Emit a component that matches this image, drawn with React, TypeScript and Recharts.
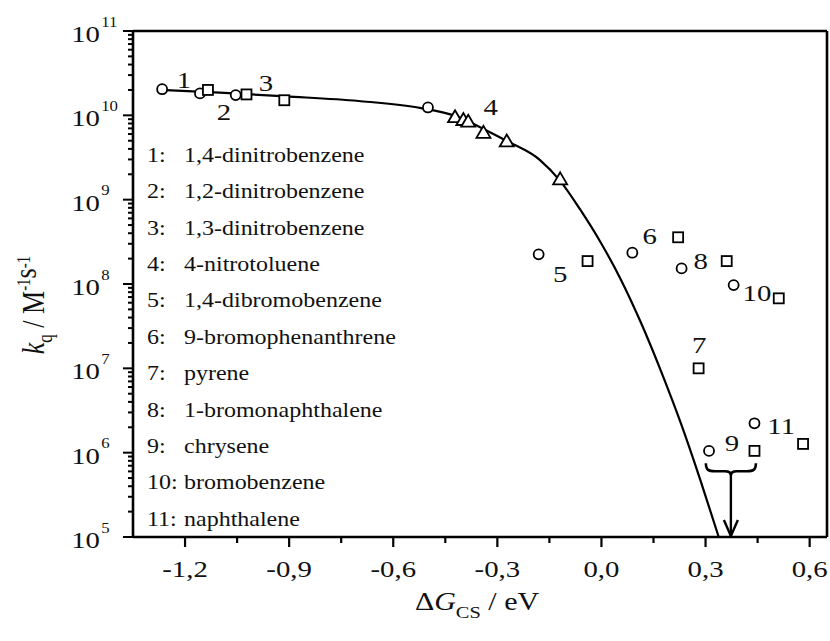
import React from 'react'
import {
  ComposedChart,
  Customized,
  Line,
  ReferenceLine,
  Scatter,
  XAxis,
  YAxis,
} from 'recharts'

const SERIF = '"Liberation Serif", "Times New Roman", serif'
const INK = '#111'
const STRETCH = 1.2 // the original figure is drawn a little wide

// open circles
const circleX = [-1.266, -1.157, -1.054, -0.5, -0.181, 0.089, 0.231, 0.381, 0.31, 0.441]
const circleK = [2.04e10, 1.82e10, 1.74e10, 1.24e10, 2.25e8, 2.35e8, 1.53e8, 9.7e7, 1.05e6, 2.23e6]

// open squares
const squareX = [-1.134, -1.023, -0.914, -0.04, 0.221, 0.361, 0.511, 0.28, 0.441, 0.581]
const squareK = [2.0e10, 1.77e10, 1.51e10, 1.87e8, 3.58e8, 1.87e8, 6.76e7, 1.0e7, 1.05e6, 1.27e6]

// open triangles (4-nitrotoluene)
const triangleX = [-0.422, -0.398, -0.384, -0.34, -0.273, -0.119]
const triangleK = [9.5e9, 8.8e9, 8.4e9, 6.2e9, 4.9e9, 1.74e9]

// fitted curve
const curveX = [-1.27, -1.1, -0.91, -0.7, -0.52, -0.42, -0.34, -0.27, -0.177, -0.119, -0.061, -0.003, 0.055, 0.113, 0.171, 0.229, 0.286, 0.338]
const curveK = [2.0e10, 1.86e10, 1.68e10, 1.48e10, 1.22e10, 9.8e9, 6.9e9, 4.9e9, 2.95e9, 1.67e9, 7.6e8, 3.15e8, 1.15e8, 3.54e7, 9.4e6, 2.22e6, 4.6e5, 1.0e5]

// numbers written next to the points
const tagText = ['1', '2', '3', '4', '5', '6', '7', '8', '9', '10', '11']
const tagX = [-1.203, -1.088, -0.967, -0.319, -0.119, 0.139, 0.282, 0.286, 0.376, 0.448, 0.518]
const tagK = [2.59e10, 1.1e10, 2.44e10, 1.25e10, 1.31e8, 3.71e8, 1.89e7, 1.88e8, 1.29e6, 7.76e7, 2.07e6]

const compoundNames = [
  '1,4-dinitrobenzene',
  '1,2-dinitrobenzene',
  '1,3-dinitrobenzene',
  '4-nitrotoluene',
  '1,4-dibromobenzene',
  '9-bromophenanthrene',
  'pyrene',
  '1-bromonaphthalene',
  'chrysene',
  'bromobenzene',
  'naphthalene',
]

// brace under 9 / 11 with the arrow down to the axis
const braceX = [0.373]
const braceK = [5.7e5]
const arrowTipK = [1e5]

const xDomain = [-1.35, 0.65]
const xMajor = [-1.2, -0.9, -0.6, -0.3, 0, 0.3, 0.6]
const xMinor = [-1.05, -0.75, -0.45, -0.15, 0.15, 0.45]
const yExponents = [5, 6, 7, 8, 9, 10, 11]

const zip = (xs: number[], ks: number[]) => xs.map((x, i) => ({ x, k: ks[i] }))

const circles = zip(circleX, circleK)
const squares = zip(squareX, squareK)
const triangles = zip(triangleX, triangleK)
const curve = zip(curveX, curveK)
const tags = tagX.map((x, i) => ({ x, k: tagK[i], t: tagText[i] }))
const brace = zip(braceX, braceK)
const arrowTip = zip(braceX, arrowTipK)

const xTicks = [...xMajor, ...xMinor].sort((a, b) => a - b)
const yTicks: number[] = []
yExponents.forEach((e) => {
  yTicks.push(Math.pow(10, e))
  if (e < 11) for (let m = 2; m <= 9; m++) yTicks.push(m * Math.pow(10, e))
})

const XTick = (props: any) => {
  const { x, y, payload } = props
  const v = payload.value
  const major = xMajor.some((m) => Math.abs(m - v) < 1e-9)
  return (
    <g>
      <line x1={x} x2={x} y1={y} y2={y + (major ? 10 : 6)} stroke="#000" strokeWidth={2.2} />
      {major && (
        <text
          transform={`translate(${x},${y + 40}) scale(${STRETCH},1)`}
          textAnchor="middle"
          fontFamily={SERIF}
          fontSize={24}
          fill={INK}
        >
          {v.toFixed(1).replace('.', ',')}
        </text>
      )}
    </g>
  )
}

const YTick = (props: any) => {
  const { x, y, payload } = props
  const v = payload.value
  const lg = Math.log10(v)
  const e = Math.round(lg)
  const major = Math.abs(lg - e) < 1e-9
  return (
    <g>
      <line x1={x} x2={x - (major ? 10 : 5)} y1={y} y2={y} stroke="#000" strokeWidth={2} />
      {major && (
        <g transform={`translate(${x - 33},${y}) scale(${STRETCH},1)`} fontFamily={SERIF} fill={INK}>
          <text x={0} y={11} textAnchor="end" fontSize={24}>10</text>
          <text x={1} y={-4.5} fontSize={14}>{e}</text>
        </g>
      )}
    </g>
  )
}

const CircleMark = ({ cx, cy }: any) => (
  <circle cx={cx} cy={cy} r={5} fill="#fff" stroke="#000" strokeWidth={1.8} />
)
const SquareMark = ({ cx, cy }: any) => (
  <rect x={cx - 5} y={cy - 5} width={10} height={10} fill="#fff" stroke="#000" strokeWidth={1.8} />
)
const TriangleMark = ({ cx, cy }: any) => (
  <path
    d={`M${cx},${cy - 7} L${cx + 7},${cy + 5} L${cx - 7},${cy + 5} Z`}
    fill="#fff"
    stroke="#000"
    strokeWidth={1.8}
  />
)
const TagMark = ({ cx, cy, payload }: any) => (
  <text
    transform={`translate(${cx},${cy + 8}) scale(${STRETCH},1)`}
    textAnchor="middle"
    fontFamily={SERIF}
    fontSize={24}
    fill={INK}
  >
    {payload.t}
  </text>
)
const BraceMark = ({ cx, cy }: any) => (
  <path
    d={`M${cx - 25},${cy - 10} C${cx - 25},${cy - 3} ${cx - 22},${cy - 2} ${cx - 16},${cy - 2} L${cx - 6},${cy - 2} C${cx - 2},${cy - 2} ${cx},${cy - 1} ${cx},${cy + 2} C${cx},${cy - 1} ${cx + 2},${cy - 2} ${cx + 6},${cy - 2} L${cx + 16},${cy - 2} C${cx + 22},${cy - 2} ${cx + 25},${cy - 3} ${cx + 25},${cy - 10}`}
    fill="none"
    stroke="#000"
    strokeWidth={2.6}
  />
)
const ArrowHead = ({ cx, cy }: any) => (
  <path
    d={`M${cx - 7},${cy - 17} L${cx},${cy - 1} L${cx + 7},${cy - 17}`}
    fill="none"
    stroke="#000"
    strokeWidth={2.4}
  />
)

const Texts = () => (
  <g fontFamily={SERIF} fill={INK}>
    {compoundNames.map((name, i) => {
      const y = 161.7 + i * 36.4
      return (
        <g key={name}>
          <text transform={`translate(147,${y}) scale(${STRETCH},1)`} fontSize={20}>
            {i + 1}:
          </text>
          <text transform={`translate(184,${y}) scale(${STRETCH},1)`} fontSize={20}>
            {name}
          </text>
        </g>
      )
    })}
    <text transform={`translate(477,610) scale(${STRETCH},1)`} textAnchor="middle" fontSize={25}>
      Δ<tspan fontStyle="italic">G</tspan>
      <tspan fontSize={17} dy={8}>CS</tspan>
      <tspan dy={-8}> / eV</tspan>
    </text>
    <text transform="translate(44,305) rotate(-90) scale(1,1.2)" textAnchor="middle" fontSize={26}>
      <tspan fontStyle="italic">k</tspan>
      <tspan fontSize={17} dy={7}>q</tspan>
      <tspan dy={-7}> / M</tspan>
      <tspan fontSize={15} dy={-12}>-1</tspan>
      <tspan dy={5}>s</tspan>
      <tspan fontSize={15} dy={-5}>-1</tspan>
    </text>
  </g>
)

export default function App() {
  return (
    <div style={{ position: 'absolute', left: 0, top: 0, width: 830, height: 641, background: '#fff' }}>
      <ComposedChart width={830} height={641} margin={{ top: 31, right: 3, bottom: 0, left: 0 }}>
        <XAxis
          dataKey="x"
          type="number"
          domain={xDomain}
          ticks={xTicks}
          interval={0}
          allowDataOverflow
          height={104}
          tickSize={0}
          tickMargin={0}
          tickLine={false}
          tick={<XTick />}
          axisLine={{ stroke: '#000', strokeWidth: 2.6 }}
        />
        <YAxis
          dataKey="k"
          type="number"
          scale="log"
          domain={[1e5, 1e11]}
          ticks={yTicks}
          interval={0}
          allowDataOverflow
          width={133}
          tickSize={0}
          tickMargin={0}
          tickLine={false}
          tick={<YTick />}
          axisLine={{ stroke: '#000', strokeWidth: 2.6 }}
        />
        <ReferenceLine y={1e11} stroke="#000" strokeWidth={2.6} />
        <ReferenceLine x={0.65} stroke="#000" strokeWidth={2.6} />
        <ReferenceLine
          segment={[
            { x: braceX[0], y: braceK[0] },
            { x: braceX[0], y: arrowTipK[0] },
          ]}
          stroke="#000"
          strokeWidth={2.4}
        />
        <Line
          data={curve}
          dataKey="k"
          type="monotone"
          stroke="#000"
          strokeWidth={2.2}
          dot={false}
          activeDot={false}
          isAnimationActive={false}
        />
        <Scatter data={circles} shape={<CircleMark />} isAnimationActive={false} />
        <Scatter data={squares} shape={<SquareMark />} isAnimationActive={false} />
        <Scatter data={triangles} shape={<TriangleMark />} isAnimationActive={false} />
        <Scatter data={tags} shape={<TagMark />} isAnimationActive={false} />
        <Scatter data={brace} shape={<BraceMark />} isAnimationActive={false} />
        <Scatter data={arrowTip} shape={<ArrowHead />} isAnimationActive={false} />
        <Customized component={Texts} />
      </ComposedChart>
    </div>
  )
}
